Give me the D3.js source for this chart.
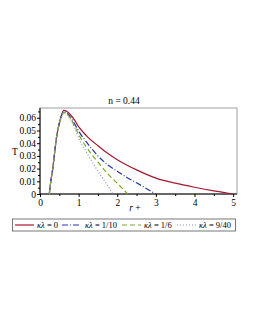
<!DOCTYPE html>
<html>
<head>
<meta charset="utf-8">
<script src="https://cdn.jsdelivr.net/npm/d3@7"></script>
<style>
  body { margin: 0; background: #fff; }
  text { font-family: "Liberation Serif", "DejaVu Serif", serif; }
</style>
</head>
<body>
<svg id="chart" width="255" height="330"></svg>
<script>
// values
const rRed   = [0.24, 0.28, 0.33, 0.38, 0.43, 0.5, 0.56, 0.62, 0.7, 0.8, 0.9, 1.0, 1.2, 1.5, 1.75, 2.0, 2.5, 3.0, 3.5, 4.0, 4.5, 5.0];
const tRed   = [0, 0.010, 0.020, 0.033, 0.045, 0.056, 0.0625, 0.0658, 0.065, 0.062, 0.058, 0.053, 0.046, 0.038, 0.032, 0.027, 0.019, 0.0125, 0.0085, 0.0053, 0.0025, 0];
const rBlue  = [0.24, 0.28, 0.33, 0.38, 0.43, 0.5, 0.56, 0.62, 0.7, 0.8, 0.9, 1.0, 1.2, 1.5, 1.75, 2.0, 2.25, 2.5, 2.75, 3.0];
const tBlue  = [0, 0.010, 0.020, 0.033, 0.045, 0.0555, 0.062, 0.0648, 0.0638, 0.060, 0.055, 0.0495, 0.041, 0.030, 0.023, 0.018, 0.013, 0.0088, 0.0044, 0];
const rGreen = [0.24, 0.28, 0.33, 0.38, 0.43, 0.5, 0.56, 0.62, 0.7, 0.8, 0.9, 1.0, 1.2, 1.5, 1.8, 2.0, 2.27];
const tGreen = [0, 0.010, 0.020, 0.033, 0.045, 0.0553, 0.0615, 0.0643, 0.063, 0.059, 0.053, 0.047, 0.037, 0.025, 0.0145, 0.0085, 0];
const rDot   = [0.24, 0.28, 0.33, 0.38, 0.43, 0.5, 0.56, 0.62, 0.7, 0.8, 0.9, 1.0, 1.2, 1.5, 1.7, 1.89];
const tDot   = [0, 0.010, 0.020, 0.033, 0.045, 0.055, 0.061, 0.064, 0.0625, 0.058, 0.052, 0.044, 0.033, 0.018, 0.009, 0];

const labels = ["0", "1/10", "1/6", "9/40"];
const xTicks = [0, 1, 2, 3, 4, 5];
const yTicks = [0, 0.01, 0.02, 0.03, 0.04, 0.05, 0.06];

const series = [
  {r: rRed,   t: tRed,   color: "#a3192e", dash: null},
  {r: rBlue,  t: tBlue,  color: "#2634a8", dash: "6,2,1,2"},
  {r: rGreen, t: tGreen, color: "#78ac1e", dash: "5,3"},
  {r: rDot,   t: tDot,   color: "#8592cc", dash: "1,2"}
];

const svg = d3.select("#chart");
const plotL = 40, plotR = 237, plotT = 108, plotB = 194;

const x = d3.scaleLinear().domain([0, 5.1]).range([plotL, plotR]);
const y = d3.scaleLinear().domain([0, 0.0677]).range([plotB, plotT]);

// frame
svg.append("rect")
    .attr("x", plotL).attr("y", plotT)
    .attr("width", plotR - plotL).attr("height", plotB - plotT)
    .attr("fill", "none").attr("stroke", "#a0a0a0").attr("stroke-width", 1);

// minor ticks
svg.append("g")
    .attr("transform", `translate(0,${plotB})`)
    .call(d3.axisBottom(x).tickValues(d3.range(0.5, 5.1, 1)).tickSize(2).tickFormat(""))
    .call(g => g.select(".domain").remove());
svg.append("g")
    .attr("transform", `translate(${plotL},0)`)
    .call(d3.axisLeft(y).tickValues(d3.range(0.005, 0.066, 0.01)).tickSize(2).tickFormat(""))
    .call(g => g.select(".domain").remove());

const xAxis = svg.append("g")
    .attr("transform", `translate(0,${plotB})`)
    .call(d3.axisBottom(x).tickValues(xTicks).tickSize(3).tickPadding(2).tickFormat(d3.format("d")));
xAxis.select(".domain").attr("d", `M${plotL},0H${plotR}`);
xAxis.selectAll("text").attr("font-size", 9.5).attr("font-family", "Liberation Serif");

const yAxis = svg.append("g")
    .attr("transform", `translate(${plotL},0)`)
    .call(d3.axisLeft(y).tickValues(yTicks).tickSize(3).tickPadding(1)
      .tickFormat(d => d === 0 ? "0" : d3.format(".2f")(d)));
yAxis.select(".domain").attr("d", `M0,${plotB}V${plotT}`);
yAxis.selectAll("text").attr("font-size", 9.5).attr("font-family", "Liberation Serif");

// curves
const line = d3.line().x(d => x(d[0])).y(d => y(d[1])).curve(d3.curveMonotoneX);
series.forEach(s => {
  svg.append("path")
      .datum(d3.zip(s.r, s.t))
      .attr("d", line)
      .attr("fill", "none")
      .attr("stroke", s.color)
      .attr("stroke-width", 1.2)
      .attr("stroke-dasharray", s.dash);
});

// title and axis labels
svg.append("text").attr("x", 124).attr("y", 104).attr("text-anchor", "middle")
    .attr("font-size", 9.5).text("n = 0.44");
svg.append("text").attr("x", 15).attr("y", 155).attr("text-anchor", "middle")
    .attr("font-size", 9.5).text("T");
const xl = svg.append("text").attr("x", 135).attr("y", 211).attr("text-anchor", "middle")
    .attr("font-size", 9.5);
xl.append("tspan").attr("font-style", "italic").text("r");
xl.append("tspan").text(" +");

// legend
svg.append("rect").attr("x", 12.5).attr("y", 219).attr("width", 223).attr("height", 12)
    .attr("fill", "none").attr("stroke", "#555").attr("stroke-width", 0.8);
const lineX = [15, 62, 122, 177];
const textX = [37, 85, 144, 199];
series.forEach((s, i) => {
  svg.append("line")
      .attr("x1", lineX[i]).attr("x2", lineX[i] + 19)
      .attr("y1", 225).attr("y2", 225)
      .attr("stroke", s.color).attr("stroke-width", 1.2)
      .attr("stroke-dasharray", s.dash);
  const t = svg.append("text").attr("x", textX[i]).attr("y", 228.3).attr("font-size", 8.5);
  t.append("tspan").attr("font-style", "italic").text("κλ");
  t.append("tspan").text(" = " + labels[i]);
});
</script>
</body>
</html>
